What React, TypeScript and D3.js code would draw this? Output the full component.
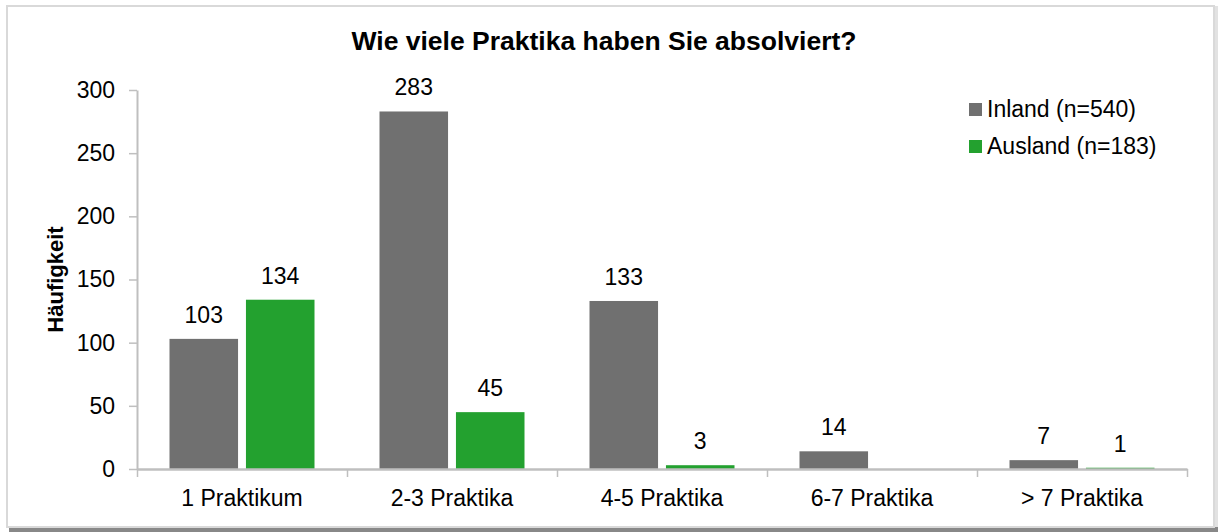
import React, { useEffect, useRef } from 'react';
import * as d3 from 'd3';

// data
const categories = ['1 Praktikum', '2-3 Praktika', '4-5 Praktika', '6-7 Praktika', '> 7 Praktika'];
const inland = [103, 283, 133, 14, 7];
const ausland = [134, 45, 3, null, 1];
const seriesNames = ['Inland (n=540)', 'Ausland (n=183)'];
const yTicks = [0, 50, 100, 150, 200, 250, 300];

const WIDTH = 1218;
const HEIGHT = 532;
const FONT = 'Arial, "Liberation Sans", sans-serif';
const LABEL_SIZE = 23;
const colors = ['#707070', '#23a12f'];

export default function App() {
  const svgRef = useRef<SVGSVGElement>(null);

  useEffect(() => {
    const svg = d3.select(svgRef.current);
    svg.selectAll('*').remove();

    const margin = { left: 137, right: 31, top: 90, bottom: 63 };
    const plotW = WIDTH - margin.left - margin.right;
    const plotH = HEIGHT - margin.top - margin.bottom;

    // frame with shadow (dark at bottom, light on the right)
    svg.append('rect')
      .attr('x', 1213).attr('y', 6).attr('width', 5).attr('height', 524)
      .attr('fill', '#e2e2e2');
    svg.append('rect')
      .attr('x', 9).attr('y', 527).attr('width', 1209).attr('height', 5)
      .attr('fill', '#888');
    svg.append('rect')
      .attr('x', 7).attr('y', 6).attr('width', 1207).attr('height', 521)
      .attr('fill', '#fff').attr('stroke', '#d9d9d9').attr('stroke-width', 2);

    svg.append('text')
      .attr('x', 604).attr('y', 50)
      .attr('text-anchor', 'middle')
      .attr('font-family', FONT).attr('font-size', 26.5).attr('font-weight', 'bold')
      .text('Wie viele Praktika haben Sie absolviert?');

    const g = svg.append('g').attr('transform', `translate(${margin.left},${margin.top})`);

    const y = d3.scaleLinear().domain([0, 300]).range([plotH, 0]);
    const x0 = d3.scaleBand().domain(categories).range([0, plotW]).paddingInner(0).paddingOuter(0);
    const x1 = d3.scaleBand().domain(['0', '1']).range([32.5, x0.bandwidth() - 32.5]).paddingInner(15 / 145);
    const xEdge = d3.scaleLinear().domain([0, categories.length]).range([0, plotW]);

    // y axis
    const yAxis = g.append('g').call(d3.axisLeft(y).tickValues(yTicks).tickSize(8).tickSizeOuter(0));
    yAxis.select('.domain').attr('stroke', '#bfbfbf').attr('stroke-width', 2);
    yAxis.selectAll('.tick line').attr('stroke', '#bfbfbf').attr('stroke-width', 1.5);
    yAxis.selectAll('.tick text')
      .attr('font-family', FONT).attr('font-size', LABEL_SIZE).attr('fill', '#000').attr('x', -22);

    // y axis title
    g.append('text')
      .attr('transform', `translate(${-74},${plotH / 2}) rotate(-90)`)
      .attr('text-anchor', 'middle')
      .attr('font-family', FONT).attr('font-size', 22).attr('font-weight', 'bold')
      .text('Häufigkeit');

    // bars
    const series = [inland, ausland];
    series.forEach((vals, si) => {
      const grp = g.append('g');
      categories.forEach((c, ci) => {
        const v = vals[ci];
        if (v == null) return;
        const bx = (x0(c) ?? 0) + (x1(String(si)) ?? 0);
        grp.append('rect')
          .attr('x', bx).attr('y', y(v))
          .attr('width', x1.bandwidth()).attr('height', y(0) - y(v))
          .attr('fill', colors[si]);
        grp.append('text')
          .attr('x', bx + x1.bandwidth() / 2).attr('y', y(v) - 16)
          .attr('text-anchor', 'middle')
          .attr('font-family', FONT).attr('font-size', LABEL_SIZE)
          .text(v);
      });
    });

    // x axis (ticks at category edges)
    const xAxis = g.append('g').attr('transform', `translate(0,${plotH})`)
      .call(d3.axisBottom(xEdge).tickValues(d3.range(categories.length + 1)).tickFormat(() => '').tickSize(8).tickSizeOuter(0));
    xAxis.select('.domain').attr('stroke', '#bfbfbf').attr('stroke-width', 2.5);
    xAxis.selectAll('.tick line').attr('stroke', '#bfbfbf').attr('stroke-width', 1.5);

    g.append('g').selectAll('text').data(categories).join('text')
      .attr('x', (d) => (x0(d) ?? 0) + x0.bandwidth() / 2)
      .attr('y', plotH + 37)
      .attr('text-anchor', 'middle')
      .attr('font-family', FONT).attr('font-size', LABEL_SIZE)
      .text((d) => d);

    // legend
    const legend = svg.append('g').attr('transform', 'translate(969,103)');
    seriesNames.forEach((name, i) => {
      legend.append('rect')
        .attr('x', 0).attr('y', i * 37).attr('width', 13).attr('height', 13)
        .attr('fill', colors[i]);
      legend.append('text')
        .attr('x', 18).attr('y', i * 37 + 14)
        .attr('font-family', FONT).attr('font-size', LABEL_SIZE)
        .text(name);
    });
  }, []);

  return (
    <svg
      ref={svgRef}
      width={WIDTH}
      height={HEIGHT}
      style={{ position: 'absolute', left: 0, top: 0, display: 'block' }}
    />
  );
}
